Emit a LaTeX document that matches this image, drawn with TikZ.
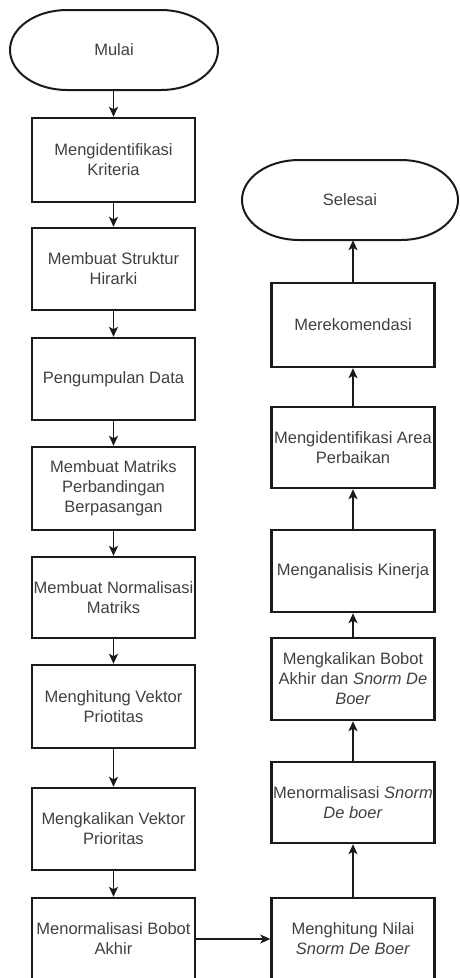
\documentclass[tikz,border=0pt]{standalone}
\usepackage{fontspec}
\setmainfont{Liberation Sans}
\usetikzlibrary{arrows.meta}
\definecolor{txt}{HTML}{404040}
\definecolor{edge}{HTML}{1A1A1A}
\tikzset{
  box/.style={draw=edge, line width=2.4pt, rectangle, minimum width=163pt, minimum height=82pt, inner sep=0pt, align=center, text=txt, font=\fontsize{16.5}{20}\selectfont},
  term/.style={inner sep=0pt, minimum width=208pt, minimum height=80pt, align=center, text=txt, font=\fontsize{16.5}{20}\selectfont},
  termline/.style={draw=edge, line width=2pt},
  conn/.style={draw=edge, line width=1.4pt, -{Stealth[length=10pt,width=9pt,inset=2.5pt]}}
}
\begin{document}
\begin{tikzpicture}[x=1pt,y=-1pt]
\useasboundingbox (0,0) rectangle (459,978);
\clip (0,0) rectangle (459,978);
% terminators
\node[term] (mulai) at (114,50) {Mulai};
\draw[termline] (67,10) -- (161,10) arc[start angle=-90,end angle=90,x radius=57,y radius=40] -- (67,90) arc[start angle=90,end angle=270,x radius=57,y radius=40] -- cycle;
\node[term] (selesai) at (350,200) {Selesai};
\draw[termline] (299,160) -- (401,160) arc[start angle=-90,end angle=90,x radius=57,y radius=40] -- (299,240) arc[start angle=90,end angle=270,x radius=57,y radius=40] -- cycle;
% left column
\node[box, minimum height=84pt] (l1) at (113.5,160) {Mengidentifikasi\\Kriteria};
\node[box] (l2) at (113.5,269) {Membuat Struktur\\Hirarki};
\node[box] (l3) at (113.5,379) {Pengumpulan Data};
\node[box, minimum height=83pt] (l4) at (113.5,488.5) {Membuat Matriks\\Perbandingan\\Berpasangan};
\node[box, minimum height=81pt] (l5) at (113.5,597.5) {Membuat Normalisasi\\Matriks};
\node[box, minimum height=83pt] (l6) at (113.5,706.5) {Menghitung Vektor\\Priotitas};
\node[box] (l7) at (113.5,829) {Mengkalikan Vektor\\Prioritas};
\node[box] (l8) at (113.5,939) {Menormalisasi Bobot\\Akhir};
% right column
\node[box] (r1) at (353,939) {Menghitung Nilai\\\textit{Snorm De Boer}};
\node[box, minimum height=81pt] (r2) at (353,802.5) {Menormalisasi \textit{Snorm}\\\textit{De boer}};
\node[box] (r3) at (353,679) {Mengkalikan Bobot\\Akhir dan \textit{Snorm De}\\\textit{Boer}};
\node[box] (r4) at (353,571) {Menganalisis Kinerja};
\node[box, minimum height=81pt] (r5) at (353,447.5) {Mengidentifikasi Area\\Perbaikan};
\node[box, minimum height=84pt] (r6) at (353,325) {Merekomendasi};
% connectors
\draw[conn] (l1.north |- mulai.south) -- (l1.north);
\draw[conn] (l1) -- (l2);
\draw[conn] (l2) -- (l3);
\draw[conn] (l3) -- (l4);
\draw[conn] (l4) -- (l5);
\draw[conn] (l5) -- (l6);
\draw[conn] (l6) -- (l7);
\draw[conn] (l7) -- (l8);
\draw[conn] (l8.east) -- (r1.west);
\draw[conn] (r1) -- (r2);
\draw[conn] (r2) -- (r3);
\draw[conn] (r3) -- (r4);
\draw[conn] (r4) -- (r5);
\draw[conn] (r5) -- (r6);
\draw[conn] (r6.north) -- (r6.north |- selesai.south);
\end{tikzpicture}
\end{document}
